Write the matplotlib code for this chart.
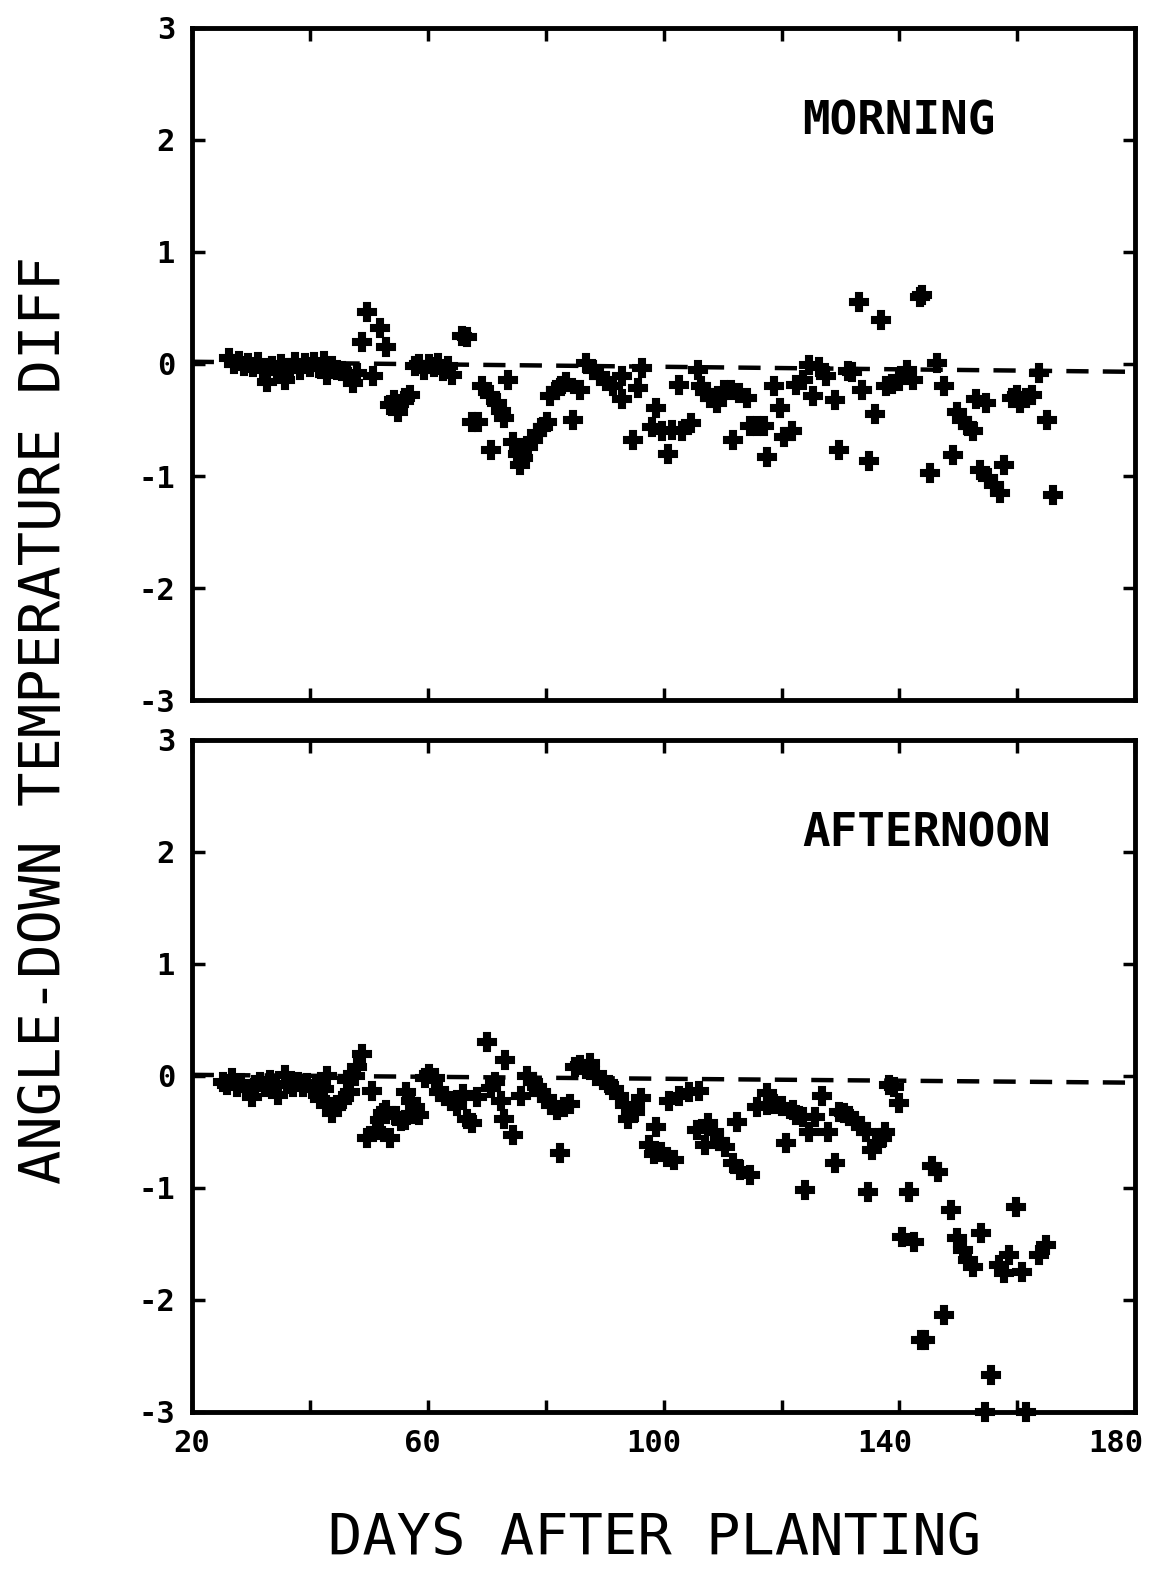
import numpy as np
import matplotlib.pyplot as plt
import matplotlib.transforms as mtransforms

# morning angle-down temperature difference vs days after planting
am_days = [26.4, 27.2, 28.0, 28.8, 29.6, 30.4, 31.2, 32.0, 32.7, 33.6, 34.4, 35.2, 35.8, 36.6,
           37.5, 38.3, 39.2, 40.0, 40.8, 41.6, 42.4, 42.9, 43.8, 44.6, 45.5, 46.3, 47.3, 48.0,
           48.8, 49.8, 50.7, 51.9, 53.0,
           53.6, 54.3, 54.9, 56.1, 57.0,
           57.8, 58.6, 59.4, 60.2, 61.0, 61.8, 62.6, 63.4, 64.2,
           65.9, 66.6,
           67.6, 68.5, 69.3, 70.5, 70.8, 71.7, 72.5, 73.0, 73.6, 74.4, 75.3, 75.6, 76.2, 77.0,
           77.8, 78.6, 79.5, 80.2, 80.7, 81.8, 82.6, 83.5, 84.6, 85.8, 86.9, 88.0, 89.2, 90.2,
           91.4, 92.9, 93.0, 94.8, 95.6, 96.4, 98.0, 98.8, 99.8, 100.7, 101.5, 102.7, 103.2,
           104.7, 105.8, 106.3, 107.0, 107.8, 109.0, 110.3, 111.5, 111.7, 112.8, 114.1, 114.6,
           115.8, 117.1, 117.6, 118.8, 119.7, 120.5, 121.7, 122.5, 123.6, 124.7, 125.3, 126.3,
           127.6, 129.0, 129.8, 131.3, 132.0, 133.2, 133.7, 134.9, 135.8, 136.9, 137.8, 138.8,
           140.0, 141.2, 142.3, 143.4, 143.8, 145.1, 146.3, 147.6, 149.0, 149.7, 150.6, 151.6,
           152.4, 153.0, 153.6, 154.7, 155.0, 156.0, 157.0, 157.8, 159.0, 160.0, 160.5, 161.4,
           162.4, 163.7, 165.0, 166.0]
am_diff = [0.05, 0.0, 0.03, -0.02, 0.01, -0.03, 0.02, -0.05, -0.16, -0.02, -0.06, 0.0, -0.14, -0.04,
           0.02, -0.05, 0.01, -0.03, 0.02, -0.04, 0.03, -0.10, -0.02, -0.05, -0.06, -0.10, -0.17, -0.08,
           0.20, 0.46, -0.11, 0.32, 0.15,
           -0.37, -0.32, -0.43, -0.30, -0.28,
           -0.02, 0.0, -0.05, 0.0, -0.03, 0.01, -0.06, -0.02, -0.10,
           0.25, 0.24,
           -0.52, -0.52, -0.20, -0.28, -0.77, -0.35, -0.42, -0.48, -0.14, -0.70, -0.80, -0.90, -0.84, -0.74,
           -0.68, -0.62, -0.56, -0.52, -0.29, -0.23, -0.20, -0.16, -0.50, -0.23, 0.01, -0.05, -0.11, -0.15,
           -0.20, -0.31, -0.11, -0.68, -0.21, -0.04, -0.56, -0.39, -0.60, -0.80, -0.59, -0.19, -0.60,
           -0.53, -0.05, -0.20, -0.25, -0.30, -0.35, -0.23, -0.23, -0.68, -0.26, -0.30, -0.55,
           -0.55, -0.55, -0.83, -0.20, -0.39, -0.65, -0.60, -0.19, -0.14, -0.01, -0.29, -0.03,
           -0.11, -0.32, -0.77, -0.06, -0.07, 0.55, -0.23, -0.87, -0.45, 0.39, -0.20, -0.18,
           -0.15, -0.05, -0.14, 0.60, 0.62, -0.97, 0.01, -0.20, -0.81, -0.43, -0.50, -0.55,
           -0.60, -0.31, -0.95, -0.35, -1.02, -1.08, -1.15, -0.90, -0.30, -0.28, -0.35, -0.30,
           -0.28, -0.08, -0.50, -1.17]

# afternoon
pm_days = [25.3, 26.0, 26.8, 27.6, 28.4, 29.2, 30.2, 30.8, 31.6, 32.4, 33.2, 34.0, 34.6, 35.8,
           36.4, 37.2, 38.0, 38.8, 39.6, 40.4, 41.0, 41.7, 42.5, 42.9,
           43.7, 44.2, 44.7, 45.4, 46.3, 46.8, 47.6, 48.0, 48.8, 49.7, 50.5, 51.3, 51.9, 52.5,
           53.0, 53.6, 54.7, 55.4, 56.1, 56.4, 57.2, 57.9, 58.6, 59.6, 60.3, 61.2, 62.0, 63.0,
           64.0, 65.0, 66.0, 66.6, 67.6, 68.3, 70.0, 70.8, 71.5, 72.5, 73.2, 73.0, 74.5,
           75.9, 76.8, 77.8, 78.6, 79.3, 80.2, 81.0, 82.0, 82.4, 83.2, 84.1, 85.0, 85.8, 86.8,
           87.6, 88.6, 89.7, 90.8, 91.6, 92.4, 93.5, 94.0, 95.1, 96.2, 97.6, 98.4, 98.8, 99.5,
           100.6, 101.7, 101.0, 102.6, 104.3, 105.6, 106.0, 107.0, 107.5, 108.5, 109.6, 110.4,
           111.7, 112.5, 113.0, 114.6, 115.8, 117.5, 117.5, 118.8, 120.0, 120.8, 121.9, 122.5,
           123.6, 124.0, 124.7, 125.6, 126.8, 127.8, 129.0, 129.8, 130.6, 131.5, 132.5, 133.5,
           134.4, 134.6, 135.4, 136.2, 137.0, 137.6, 138.2, 139.0, 140.0, 140.5, 141.7, 142.5,
           143.6, 144.3, 145.6, 146.6, 147.6, 148.8, 149.7, 150.7, 151.6, 152.5, 153.9, 154.5,
           155.6, 156.9, 157.8, 158.6, 159.8, 160.8, 161.5, 163.7, 164.9]
pm_diff = [-0.05, -0.08, -0.02, -0.10, -0.06, -0.12, -0.19, -0.08, -0.05, -0.10, -0.04, -0.08, -0.17, 0.01,
           -0.07, -0.10, -0.05, -0.10, -0.06, -0.12, -0.08, -0.21, -0.12, 0.0,
           -0.33, -0.28, -0.26, -0.22, -0.04, -0.14, 0.0, 0.08, 0.20, -0.55, -0.13, -0.48, -0.39, -0.33,
           -0.30, -0.55, -0.36, -0.40, -0.39, -0.14, -0.22, -0.28, -0.35, -0.02, 0.02, -0.02, -0.14, -0.18,
           -0.22, -0.27, -0.16, -0.38, -0.42, -0.19, 0.30, -0.11, -0.05, -0.22, 0.14, -0.38, -0.53,
           -0.18, 0.0, -0.05, -0.10, -0.15, -0.20, -0.26, -0.30, -0.69, -0.28, -0.25, 0.08, 0.10, 0.06,
           0.12, 0.0, -0.04, -0.08, -0.12, -0.18, -0.26, -0.38, -0.32, -0.20, -0.62, -0.70, -0.46, -0.68,
           -0.72, -0.75, -0.22, -0.18, -0.14, -0.48, -0.13, -0.62, -0.42, -0.50, -0.58, -0.63,
           -0.78, -0.41, -0.84, -0.88, -0.28, -0.15, -0.26, -0.25, -0.27, -0.60, -0.30, -0.35,
           -0.37, -1.02, -0.50, -0.37, -0.18, -0.50, -0.78, -0.32, -0.33, -0.36, -0.40, -0.45,
           -0.50, -1.04, -0.66, -0.60, -0.55, -0.50, -0.08, -0.10, -0.24, -1.44, -1.04, -1.48,
           -2.36, -2.36, -0.80, -0.86, -2.13, -1.20, -1.45, -1.55, -1.64, -1.71, -1.40, -3.0,
           -2.67, -1.69, -1.76, -1.60, -1.17, -1.75, -3.0, -1.60, -1.51]

# dashed zero line ends (the scan is slightly tilted)
am_zero = [0.02, -0.07]
pm_zero = [0.01, -0.06]

x_ticks = [20, 40, 60, 80, 100, 120, 140, 160, 180]
x_labels = ['20', '', '60', '', '100', '', '140', '', '180']
y_ticks = [-3, -2, -1, 0, 1, 2, 3]
y_labels = ['-3', '-2', '-1', '0', '1', '2', '3']

fig = plt.figure(figsize=(11.55, 15.72), dpi=100)
ax1 = fig.add_axes([0.166, 0.5547, 0.817, 0.4275])
ax2 = fig.add_axes([0.166, 0.1018, 0.817, 0.4275])

tickfont = dict(family='DejaVu Sans Mono', weight='bold', size=22)

for ax, days, diff, zero, name in [(ax1, am_days, am_diff, am_zero, 'MORNING'),
                                   (ax2, pm_days, pm_diff, pm_zero, 'AFTERNOON')]:
    ax.plot([20, 180], zero, color='black', lw=3.2, dashes=(5, 3.2), zorder=1)
    ax.plot(days, diff, 'P', color='black', ms=12.5, mew=1.5, mec='black',
            clip_on=False, zorder=3)
    ax.set_xlim(20, 180)
    ax.set_ylim(-3, 3)
    ax.set_xticks(x_ticks)
    ax.set_yticks(y_ticks)
    ax.set_yticklabels(y_labels, fontdict=tickfont)
    ax.tick_params(direction='in', length=9, width=2.5, top=True, right=True, pad=12)
    for s in ax.spines.values():
        s.set_linewidth(3.5)
    ax.text(123.5, 2.16, name, family='DejaVu Sans Mono', weight='bold', size=33,
            va='center', ha='left')

ax1.set_xticklabels([])
ax2.set_xticklabels(x_labels, fontdict=tickfont)
# the printed labels sit a little left of their ticks, more so to the right
for i, lab in enumerate(ax2.get_xticklabels()):
    shift = -0.2 * i / 8.0
    lab.set_transform(lab.get_transform() +
                      mtransforms.ScaledTranslation(shift, 0, fig.dpi_scale_trans))

fig.text(0.039, 0.542, 'ANGLE-DOWN TEMPERATURE DIFF', rotation=90, family='DejaVu Sans Mono',
         size=41, ha='center', va='center')
fig.text(0.567, 0.0204, 'DAYS AFTER PLANTING', family='DejaVu Sans Mono', size=41,
         ha='center', va='center')

fig.savefig('out.png', dpi=100)
